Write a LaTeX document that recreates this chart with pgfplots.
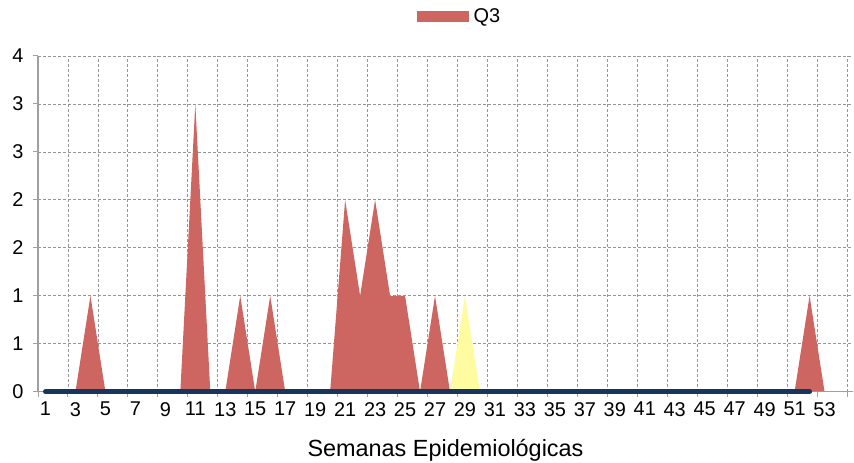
\documentclass[border=0pt]{standalone}
\usepackage{pgfplots}
\pgfplotsset{compat=1.18}
\usepackage{fontspec}
\setmainfont{Liberation Sans}
\definecolor{q3red}{RGB}{205,102,96}
\definecolor{q3yel}{RGB}{255,251,160}
\definecolor{navyline}{RGB}{23,54,93}
\definecolor{axgray}{RGB}{160,160,160}
\definecolor{gridgray}{RGB}{150,150,150}
\begin{document}
\begin{tikzpicture}
\path[use as bounding box] (0,0) rectangle (854bp,463bp);
\begin{axis}[
  at={(38bp,71.3bp)}, anchor=south west,
  scale only axis, width=815bp, height=335.7bp,
  xmin=0.5, xmax=54.9, ymin=0, ymax=3.5,
  clip=false,
  axis x line*=bottom, axis y line*=left,
  axis line style={axgray, line width=1.5bp, -},
  /pgf/number format/assume math mode=true,
  xtick={1,3,...,53},
  major x tick style={draw=none},
  minor xtick={0.5,2.5,...,54.5},
  minor x tick style={axgray, line width=1bp},
  minor tick length=5bp,
  xminorgrids,
  minor grid style={gridgray, dash pattern=on 3bp off 2bp, line width=0.8bp},
  ytick={0,0.5,...,3.5},
  yticklabels={0,1,1,2,2,3,3,4},
  major y tick style={axgray, line width=1bp},
  major tick length=5bp,
  ymajorgrids,
  major grid style={gridgray, dash pattern=on 3bp off 2bp, line width=0.8bp},
  tick align=outside,
  tick label style={font=\fontsize{20}{24}\selectfont, text=black},
  xticklabel style={yshift=-2bp},
  yticklabel style={xshift=-6bp},
  xlabel={Semanas Epidemiológicas},
  xlabel style={font=\fontsize{23.5}{28}\selectfont, yshift=-16bp},
  legend style={at={(0.517,1.119)}, anchor=center, draw=none, fill=none,
    font=\fontsize{20}{24}\selectfont, inner xsep=2bp},
  legend image code/.code={\fill[q3red] (0bp,-5.5bp) rectangle (52bp,5.5bp);},
]
\addplot[fill=q3red, draw=none] coordinates {
(1,0)(2,0)(3,0)(4,1)(5,0)(6,0)(7,0)(8,0)(9,0)(10,0)
(11,3)(12,0)(13,0)(14,1)(15,0)(16,1)(17,0)(18,0)(19,0)(20,0)
(21,2)(22,1)(23,2)(24,1)(25,1)(26,0)(27,1)(28,0)(29,0)(30,0)
(31,0)(32,0)(33,0)(34,0)(35,0)(36,0)(37,0)(38,0)(39,0)(40,0)
(41,0)(42,0)(43,0)(44,0)(45,0)(46,0)(47,0)(48,0)(49,0)(50,0)
(51,0)(52,1)(53,0)} \closedcycle;
\addlegendentry{\hspace{3bp}Q3}
\addplot[fill=q3yel, draw=none, forget plot] coordinates {
(1,0)(2,0)(3,0)(4,0)(5,0)(6,0)(7,0)(8,0)(9,0)(10,0)
(11,0)(12,0)(13,0)(14,0)(15,0)(16,0)(17,0)(18,0)(19,0)(20,0)
(21,0)(22,0)(23,0)(24,0)(25,0)(26,0)(27,0)(28,0)(29,1)(30,0)
(31,0)(32,0)(33,0)(34,0)(35,0)(36,0)(37,0)(38,0)(39,0)(40,0)
(41,0)(42,0)(43,0)(44,0)(45,0)(46,0)(47,0)(48,0)(49,0)(50,0)
(51,0)(52,0)(53,0)} \closedcycle;
\addplot[navyline, line width=5bp, line cap=round, forget plot] coordinates {
(1,0)(2,0)(3,0)(4,0)(5,0)(6,0)(7,0)(8,0)(9,0)(10,0)
(11,0)(12,0)(13,0)(14,0)(15,0)(16,0)(17,0)(18,0)(19,0)(20,0)
(21,0)(22,0)(23,0)(24,0)(25,0)(26,0)(27,0)(28,0)(29,0)(30,0)
(31,0)(32,0)(33,0)(34,0)(35,0)(36,0)(37,0)(38,0)(39,0)(40,0)
(41,0)(42,0)(43,0)(44,0)(45,0)(46,0)(47,0)(48,0)(49,0)(50,0)
(51,0)(52,0)};
\end{axis}
\end{tikzpicture}
\end{document}
